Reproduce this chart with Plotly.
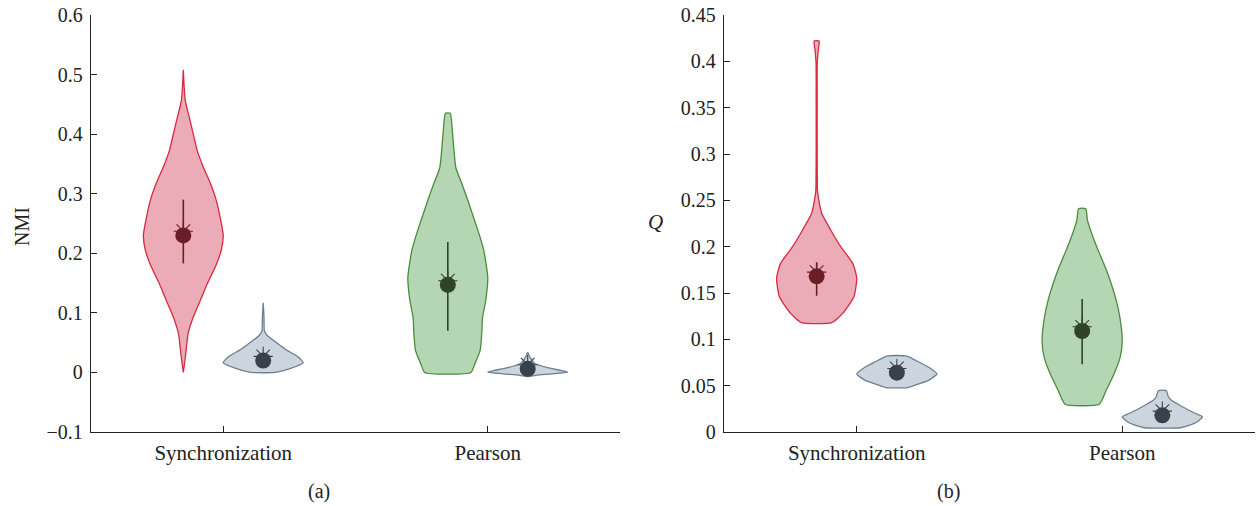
import plotly.graph_objects as go

categories = ["Synchronization", "Pearson"]

# ---- Panel (a): NMI ----
nmi_sync_y = [0.0, 0.02, 0.037, 0.065, 0.093, 0.12, 0.149, 0.18, 0.205, 0.230, 0.261, 0.29, 0.317, 0.345, 0.372, 0.40, 0.428, 0.456, 0.48, 0.508]
nmi_sync_d = [0.0, 0.04, 0.07, 0.12, 0.25, 0.42, 0.60, 0.82, 0.95, 1.0, 0.92, 0.82, 0.68, 0.50, 0.35, 0.25, 0.15, 0.05, 0.02, 0.0]
nmi_syncnull_y = [0.0, 0.006, 0.016, 0.026, 0.037, 0.049, 0.062, 0.070, 0.093, 0.117]
nmi_syncnull_d = [0.3, 0.65, 1.0, 0.88, 0.6, 0.35, 0.1, 0.03, 0.02, 0.0]
nmi_pear_y = [0.0, 0.015, 0.037, 0.065, 0.093, 0.121, 0.160, 0.205, 0.233, 0.289, 0.317, 0.344, 0.400, 0.435]
nmi_pear_d = [0.58, 0.68, 0.81, 0.85, 0.87, 0.95, 1.0, 0.9, 0.78, 0.5, 0.35, 0.2, 0.12, 0.06]
nmi_pearnull_y = [-0.007, -0.005, -0.0025, 0.0005, 0.003, 0.008, 0.015, 0.026, 0.033]
nmi_pearnull_d = [0.0, 0.2, 0.6, 1.0, 0.85, 0.5, 0.18, 0.05, 0.01]

nmi_means = [0.230, 0.020, 0.147, 0.006]
nmi_medians = [0.237, 0.027, 0.154, 0.013]
nmi_lo = [0.183, 0.012, 0.070, 0.002]
nmi_hi = [0.290, 0.028, 0.219, 0.010]

# ---- Panel (b): Q ----
q_sync_y = [0.118, 0.128, 0.146, 0.166, 0.182, 0.200, 0.218, 0.236, 0.254, 0.261, 0.304, 0.358, 0.398, 0.412, 0.422]
q_sync_d = [0.375, 0.65, 0.93, 1.0, 0.9, 0.6, 0.35, 0.125, 0.04, 0.02, 0.0125, 0.0125, 0.015, 0.04, 0.0625]
q_syncnull_y = [0.048, 0.052, 0.056, 0.0626, 0.069, 0.0755, 0.082]
q_syncnull_d = [0.275, 0.55, 0.8, 1.0, 0.825, 0.55, 0.25]
q_pear_y = [0.030, 0.045, 0.063, 0.081, 0.099, 0.124, 0.142, 0.160, 0.178, 0.196, 0.214, 0.229, 0.241]
q_pear_d = [0.425, 0.6, 0.8, 0.95, 1.0, 0.94, 0.85, 0.725, 0.575, 0.4, 0.24, 0.13, 0.09]
q_pearnull_y = [0.0046, 0.0076, 0.0119, 0.0165, 0.020, 0.0273, 0.0345, 0.038, 0.0446]
q_pearnull_d = [0.45, 0.7, 0.9, 1.0, 0.83, 0.5, 0.22, 0.15, 0.1]

q_means = [0.168, 0.064, 0.109, 0.018]
q_medians = [0.1725, 0.0685, 0.1135, 0.0225]
q_lo = [0.147, 0.060, 0.073, 0.015]
q_hi = [0.183, 0.068, 0.1435, 0.021]

# styles
RED = dict(fill="rgba(235,172,184,1)", line="#d72a40", dot="#6a1f28")
GREEN = dict(fill="rgba(180,214,179,1)", line="#4b8b3d", dot="#2f4427")
GRAY = dict(fill="rgba(204,212,221,1)", line="#6c7f93", dot="#3a414c")
OFF = 0.151
HALFW = 0.151
FONT = "Liberation Serif"
FS = 20

fig = go.Figure()


def add_violin(xa, ya, cidx, side, ys, ds, sty):
    c = cidx + side * OFF
    xs = [c + d * HALFW for d in ds] + [c - d * HALFW for d in reversed(ds)]
    yy = list(ys) + list(reversed(ys))
    xs.append(xs[0]); yy.append(yy[0])
    fig.add_trace(go.Scatter(x=xs, y=yy, mode="lines", fill="toself",
                             fillcolor=sty["fill"],
                             line=dict(color=sty["line"], width=1.3, shape="spline", smoothing=0.5),
                             xaxis=xa, yaxis=ya, showlegend=False, hoverinfo="skip"))


def add_stats(xa, ya, cidx, side, mean, med, lo, hi, sty):
    c = cidx + side * OFF
    fig.add_trace(go.Scatter(x=[c, c], y=[lo, hi], mode="lines",
                             line=dict(color=sty["dot"], width=1.6),
                             xaxis=xa, yaxis=ya, showlegend=False, hoverinfo="skip"))
    fig.add_trace(go.Scatter(x=[c], y=[med], mode="markers",
                             marker=dict(symbol="asterisk-open", size=16, color=sty["dot"],
                                         line=dict(color=sty["dot"], width=1.1)),
                             xaxis=xa, yaxis=ya, showlegend=False, hoverinfo="skip"))
    fig.add_trace(go.Scatter(x=[c], y=[mean], mode="markers",
                             marker=dict(symbol="circle", size=16, color=sty["dot"], line=dict(width=0)),
                             xaxis=xa, yaxis=ya, showlegend=False, hoverinfo="skip"))


panelA = [(0, -1, nmi_sync_y, nmi_sync_d, RED), (0, 1, nmi_syncnull_y, nmi_syncnull_d, GRAY),
          (1, -1, nmi_pear_y, nmi_pear_d, GREEN), (1, 1, nmi_pearnull_y, nmi_pearnull_d, GRAY)]
panelB = [(0, -1, q_sync_y, q_sync_d, RED), (0, 1, q_syncnull_y, q_syncnull_d, GRAY),
          (1, -1, q_pear_y, q_pear_d, GREEN), (1, 1, q_pearnull_y, q_pearnull_d, GRAY)]

for i, (ci, s, ys, ds, sty) in enumerate(panelA):
    add_violin("x", "y", ci, s, ys, ds, sty)
for i, (ci, s, ys, ds, sty) in enumerate(panelA):
    add_stats("x", "y", ci, s, nmi_means[i], nmi_medians[i], nmi_lo[i], nmi_hi[i], sty)
for i, (ci, s, ys, ds, sty) in enumerate(panelB):
    add_violin("x2", "y2", ci, s, ys, ds, sty)
for i, (ci, s, ys, ds, sty) in enumerate(panelB):
    add_stats("x2", "y2", ci, s, q_means[i], q_medians[i], q_lo[i], q_hi[i], sty)

axcommon = dict(showline=True, linecolor="#222", linewidth=1.3, ticks="inside", ticklen=6,
                tickcolor="#222", showgrid=False, zeroline=False, automargin=False)
xfont = dict(family=FONT, size=21, color="#222")
yfont = dict(family=FONT, size=FS, color="#222")

yd = [74 / 506, 491 / 506]
fig.update_layout(
    width=1257, height=506, margin=dict(l=0, r=0, t=0, b=0, autoexpand=False),
    paper_bgcolor="white", plot_bgcolor="white",
    xaxis=dict(domain=[91 / 1257, 620 / 1257], range=[-0.5, 1.5], tickvals=[0, 1],
               ticktext=categories, anchor="y", ticklabelstandoff=2, tickfont=xfont, **axcommon),
    yaxis=dict(domain=yd, range=[-0.1, 0.6], tickvals=[-0.1, 0, 0.1, 0.2, 0.3, 0.4, 0.5, 0.6],
               ticktext=["\u22120.1", "0", "0.1", "0.2", "0.3", "0.4", "0.5", "0.6"],
               anchor="x", ticklabelstandoff=3, tickfont=yfont, **axcommon),
    xaxis2=dict(domain=[724 / 1257, 1255 / 1257], range=[-0.5, 1.5], tickvals=[0, 1],
                ticktext=categories, anchor="y2", ticklabelstandoff=2, tickfont=xfont, **axcommon),
    yaxis2=dict(domain=yd, range=[0, 0.45],
                tickvals=[0, 0.05, 0.1, 0.15, 0.2, 0.25, 0.3, 0.35, 0.4, 0.45],
                ticktext=["0", "0.05", "0.1", "0.15", "0.2", "0.25", "0.3", "0.35", "0.4", "0.45"],
                anchor="x2", ticklabelstandoff=3, tickfont=yfont, **axcommon),
    annotations=[
        dict(text="NMI", x=22 / 1257, y=(506 - 227) / 506, xref="paper", yref="paper",
             xanchor="center", yanchor="middle",
             textangle=-90, showarrow=False, font=dict(family=FONT, size=FS, color="#222")),
        dict(text="<i>Q</i>", x=656 / 1257, y=(506 - 222) / 506, xref="paper", yref="paper",
             xanchor="center", yanchor="middle",
             showarrow=False, font=dict(family=FONT, size=FS + 1, color="#222")),
        dict(text="(a)", x=319 / 1257, y=(506 - 491) / 506, xref="paper", yref="paper",
             xanchor="center", yanchor="middle",
             showarrow=False, font=dict(family=FONT, size=FS, color="#222")),
        dict(text="(b)", x=948 / 1257, y=(506 - 491) / 506, xref="paper", yref="paper",
             xanchor="center", yanchor="middle",
             showarrow=False, font=dict(family=FONT, size=FS, color="#222")),
    ],
)

fig.write_html("out.html", config={"displayModeBar": False},
               post_script="document.body.style.margin='0';document.body.style.overflow='hidden';")
